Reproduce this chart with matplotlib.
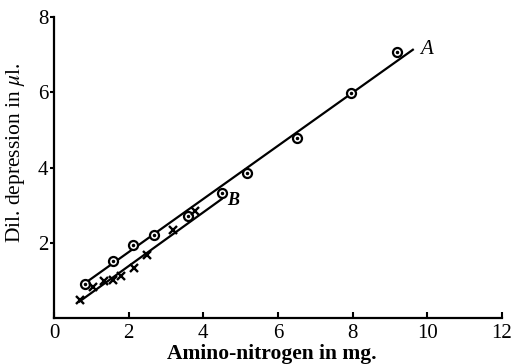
import matplotlib
matplotlib.use("Agg")
import matplotlib.pyplot as plt

# series A (circles)
a_x = [0.83, 1.58, 2.11, 2.67, 3.60, 4.49, 5.18, 6.52, 7.97, 9.18]
a_y = [0.91, 1.52, 1.95, 2.21, 2.72, 3.33, 3.87, 4.80, 5.97, 7.07]

# series B (crosses)
b_x = [0.70, 1.04, 1.34, 1.58, 1.80, 2.14, 2.50, 3.18, 3.79]
b_y = [0.48, 0.83, 0.99, 1.01, 1.12, 1.33, 1.68, 2.35, 2.85]

# fitted lines drawn in the original
line_a_x = [0.83, 9.64]
line_a_y = [0.93, 7.15]
line_b_x = [0.65, 4.50, 4.50]
line_b_y = [0.42, 3.17, 3.30]

x_ticks = [0, 2, 4, 6, 8, 10, 12]
y_ticks = [2, 4, 6, 8]

plt.rcParams["font.family"] = ["Liberation Serif", "DejaVu Serif"]
plt.rcParams["mathtext.fontset"] = "stix"

fig = plt.figure(figsize=(5.2, 3.64), dpi=100)
ax = fig.add_axes([0.104, 0.126, 0.861, 0.827])

ax.plot(line_a_x, line_a_y, color="black", lw=1.6, solid_capstyle="butt")
ax.plot(line_b_x, line_b_y, color="black", lw=1.6, solid_capstyle="butt")

ax.plot(a_x, a_y, "o", ms=6.5, mfc="white", mec="black", mew=1.6)
ax.plot(a_x, a_y, "o", ms=1.5, mfc="black", mec="black")
ax.plot(b_x, b_y, "x", ms=6, mec="black", mew=1.7)

ax.text(9.8, 7.15, "A", fontsize=15, style="italic", va="center", ha="left")
ax.text(4.65, 3.12, "B", fontsize=13, style="italic", fontweight="bold",
        va="center", ha="left")

ax.set_xlim(0, 12)
ax.set_ylim(0, 8)
ax.set_xticks(x_ticks)
ax.set_yticks(y_ticks)
ax.set_yticklabels([str(v) for v in y_ticks])
ax.tick_params(axis="x", direction="in", length=4, width=1.5, labelsize=15, pad=4)
ax.tick_params(axis="y", direction="out", length=3, width=1.5, labelsize=15, pad=1)

for side in ["top", "right"]:
    ax.spines[side].set_visible(False)
for side in ["left", "bottom"]:
    ax.spines[side].set_linewidth(1.6)

ax.set_xlabel("Amino-nitrogen in mg.", fontsize=15.5, fontweight="bold")
ax.set_ylabel(r"Dil. depression in $\mu$l.", fontsize=15.5)
ax.xaxis.set_label_coords(0.487, -0.085)
ax.yaxis.set_label_coords(-0.06, 0.55)

fig.savefig("out.png", dpi=100)
